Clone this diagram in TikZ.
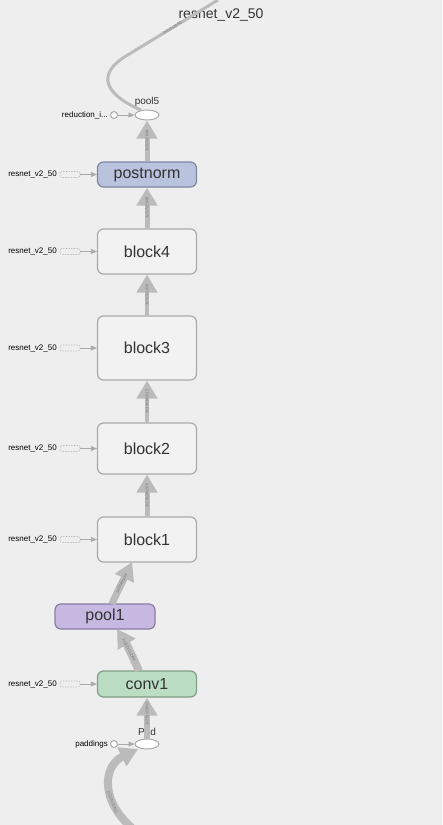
\documentclass[tikz,border=0pt]{standalone}
\usepackage{fontspec}
\setmainfont{Liberation Sans}
\usetikzlibrary{arrows.meta,shapes.geometric}
\definecolor{bg}{HTML}{EEEEEE}
\definecolor{edgec}{HTML}{BBBBBB}
\definecolor{edgetxt}{HTML}{777777}
\definecolor{txt}{HTML}{333333}
\definecolor{blkfill}{HTML}{F2F2F2}
\definecolor{blkdraw}{HTML}{AAAAAA}
\definecolor{pnfill}{HTML}{B9C3DE}
\definecolor{pndraw}{HTML}{7D87A0}
\definecolor{plfill}{HTML}{C7B8E2}
\definecolor{pldraw}{HTML}{8C7BA6}
\definecolor{cvfill}{HTML}{BBDDC3}
\definecolor{cvdraw}{HTML}{7F9F87}
\tikzset{
  blk/.style={draw=blkdraw, fill=blkfill, rounded corners=6pt, line width=1.2pt,
    minimum width=99pt, inner sep=0pt, font=\fontsize{16}{18}\selectfont, text=txt},
  opnode/.style={draw=blkdraw, fill=white, ellipse, minimum width=24pt, minimum height=10pt, inner sep=0pt, line width=1pt},
  sidelbl/.style={font=\fontsize{8}{9}\selectfont, text=black, anchor=east, inner sep=0pt},
  dotbox/.style={draw=blkdraw, densely dotted, rounded corners=2pt, minimum width=20pt, minimum height=6pt, inner sep=0pt, line width=0.6pt},
  smallcirc/.style={draw=blkdraw, fill=white, circle, minimum size=7pt, inner sep=0pt, line width=1pt},
  thin arrow/.style={draw=blkdraw, line width=0.8pt, -{Triangle[width=5pt,length=6pt]}},
  flow/.style={draw=edgec, line width=#1},
  bigtip/.style={-{Triangle[width=20pt,length=18pt]}},
  elbl/.style={font=\fontsize{4}{4}\selectfont, text=edgetxt, inner sep=0pt, sloped},
  oplbl/.style={font=\fontsize{10}{11}\selectfont, text=txt, inner sep=0pt}
}
\begin{document}
\begin{tikzpicture}[x=1pt,y=-1pt]
\useasboundingbox (0,0) rectangle (442,825);
\fill[bg] (0,0) rectangle (442,825);

\node[font=\fontsize{14}{16}\selectfont, text=txt] (title) at (221,15) {resnet\_v2\_50};

% main nodes
\node[opnode] (pool5) at (147,115) {};
\node[oplbl, anchor=south] (pool5lbl) at (147,107) {pool5};
\node[blk, fill=pnfill, draw=pndraw, minimum height=25pt] (postnorm) at (147,174.5) {postnorm};
\node[blk, minimum height=45pt] (block4) at (147,251.5) {block4};
\node[blk, minimum height=64pt] (block3) at (147,348) {block3};
\node[blk, minimum height=51pt] (block2) at (147,448.5) {block2};
\node[blk, minimum height=45pt] (block1) at (147,539.5) {block1};
\node[blk, fill=plfill, draw=pldraw, minimum width=100pt, minimum height=25pt] (pool1) at (105,616.5) {pool1};
\node[blk, fill=cvfill, draw=cvdraw, minimum height=26pt] (conv1) at (147,684) {conv1};
\node[opnode] (pad) at (147,744) {};
\node[oplbl, anchor=south] (padlbl) at (147,736) {Pad};

% side inputs
\node[smallcirc] (red) at (114,115) {};
\node[sidelbl] (redlbl) at (108,115) {reduction\_i...};
\draw[thin arrow] (red) -- (pool5);
\node[smallcirc] (padd) at (114,744) {};
\node[sidelbl] (paddlbl) at (108,744) {paddings};
\draw[thin arrow] (padd) -- (pad);

\foreach \n/\y in {postnorm/174.5, block4/251.5, block3/348, block2/448.5, block1/539.5, conv1/684}{
  \node[dotbox] (d\n) at (70,\y) {};
  \node[sidelbl] (l\n) at (57,\y) {resnet\_v2\_50};
  \draw[thin arrow] (d\n) -- (\n.west |- d\n);
}

% data flow edges
\draw[flow=5pt, bigtip] (postnorm.north) -- node[elbl]{1x7x7x2048} (pool5.south);
\draw[flow=5pt, bigtip] (block4.north) -- node[elbl]{1x7x7x2048} (postnorm.south);
\draw[flow=4.5pt, bigtip] (block3.north) -- node[elbl]{1x7x7x1024} (block4.south);
\draw[flow=4.5pt, bigtip] (block2.north) -- node[elbl]{1x14x14x512} (block3.south);
\draw[flow=5pt, bigtip] (block1.north) -- node[elbl]{1x28x28x256} (block2.south);
\draw[flow=7pt, bigtip] (112,604) .. controls (118,590) and (125,577) .. node[elbl]{1x56x56x64} (132,562);
\draw[flow=8pt, bigtip] (139,671) .. controls (133,657) and (126,643) .. node[elbl]{1x112x112x64} (117,629);
\draw[flow=6pt, bigtip] (pad.north) -- node[elbl, pos=0.6]{1x230x230x3} (conv1.south);
\coordinate (inbottom) at (132,828);
\draw[flow=8pt, bigtip] (inbottom) .. controls (100,800) and (103,766) .. node[elbl, pos=0.3]{1x224x224x3} (138,749);
\coordinate (outtop) at (218,0);
\draw[flow=3pt] (141,110) .. controls (106,95) and (95,75) .. (126,56) -- node[elbl]{1x1x1x2048} (outtop);
\end{tikzpicture}
\end{document}
